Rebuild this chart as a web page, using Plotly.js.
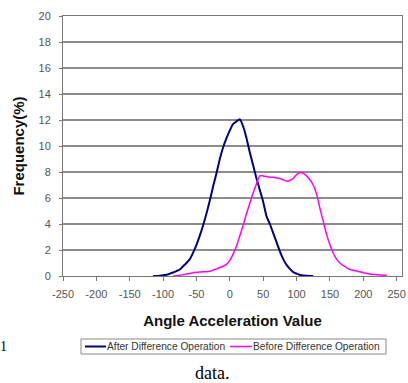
<!DOCTYPE html>
<html><head><meta charset="utf-8">
<script src="https://cdn.plot.ly/plotly-3.0.1.min.js"></script>
<style>html,body{margin:0;padding:0;background:#fff}#chart{width:408px;height:383px}</style>
</head><body><div id="chart"></div>
<script>
const afterX = [-115,-110,-105,-100,-95,-90,-85,-80,-75,-70,-65,-60,-55,-50,-45,-40,-35,-30,-25,-20,-15,-10,-5,0,5,10,15,20,25,30,35,40,45,50,55,60,65,70,75,80,85,90,95,100,105,110,115,120,125];
const afterY = [0,0,0.02,0.05,0.1,0.17,0.27,0.38,0.5,0.75,1.0,1.3,1.8,2.4,3.1,3.9,4.8,5.8,6.9,7.9,9.0,9.9,10.6,11.2,11.7,11.9,12.05,11.5,10.6,9.5,8.5,7.5,6.6,5.7,4.6,4.0,3.3,2.6,1.9,1.3,0.85,0.55,0.3,0.18,0.08,0.03,0.01,0,0];
const beforeX = [-85,-80,-75,-70,-65,-60,-55,-50,-45,-40,-35,-30,-25,-20,-15,-10,-5,0,5,10,15,20,25,30,35,40,45,50,55,60,65,70,75,80,85,90,95,100,105,110,115,120,125,130,135,140,145,150,155,160,165,170,175,180,185,190,195,200,205,210,215,220,225,230,235];
const beforeY = [0,0.02,0.05,0.1,0.15,0.2,0.25,0.28,0.3,0.32,0.33,0.36,0.45,0.55,0.65,0.75,0.9,1.2,1.7,2.3,3.1,3.9,4.8,5.6,6.4,7.1,7.7,7.7,7.65,7.6,7.6,7.55,7.5,7.4,7.3,7.35,7.5,7.8,7.95,7.9,7.7,7.4,7.0,6.3,5.2,4.2,3.2,2.4,1.75,1.3,1.0,0.8,0.65,0.5,0.45,0.38,0.32,0.25,0.2,0.15,0.12,0.1,0.08,0.06,0.05];
const xTicks = [-250,-200,-150,-100,-50,0,50,100,150,200,250];
const yTicks = [0,2,4,6,8,10,12,14,16,18,20];
const seriesNames = ['After Difference Operation','Before Difference Operation'];
const seriesColors = ['#000080', '#ff00ff'];

const traces = [
  {x: afterX, y: afterY, name: seriesNames[0], type: 'scatter', mode: 'lines',
   line: {color: seriesColors[0], width: 2, shape: 'spline', smoothing: 0.6}},
  {x: beforeX, y: beforeY, name: seriesNames[1], type: 'scatter', mode: 'lines',
   line: {color: seriesColors[1], width: 1.5, shape: 'spline', smoothing: 0.6}}
];

// pixel helpers for the legend box (paper coordinates)
const L = 63, R = 402, T = 16, B = 276;
const px = v => (v - L) / (R - L);
const py = v => (B - v) / (B - T);

const tickFont = {family: 'Liberation Sans, Arial, sans-serif', size: 11, color: '#555'};
const legFont = {family: 'Liberation Sans, Arial, sans-serif', size: 10.2, color: '#333'};
const legY = py(346.5);

const layout = {
  width: 408, height: 383,
  margin: {l: 63, r: 6, t: 16, b: 107},
  paper_bgcolor: '#fff', plot_bgcolor: '#fff',
  showlegend: false,
  xaxis: {range: [-250, 258], tickvals: xTicks, ticktext: xTicks.map(String),
    showgrid: false, zeroline: false, showline: true, linecolor: '#777', linewidth: 1,
    mirror: true, ticks: 'outside', ticklen: 4, tickcolor: '#777', tickfont: tickFont,
    ticklabelstandoff: 4,
    title: {text: 'Angle Acceleration Value', standoff: 16,
      font: {family: 'Liberation Sans, Arial, sans-serif', size: 15, color: '#111', weight: 'bold'}}},
  xaxis2: {overlaying: 'x', matches: 'x', side: 'bottom', anchor: 'y', tickvals: xTicks,
    showticklabels: false, ticks: 'inside', ticklen: 4, tickcolor: '#777', showgrid: false,
    zeroline: false, showline: false},
  yaxis: {range: [0, 20], tickvals: yTicks, ticktext: yTicks.map(String),
    showgrid: true, gridcolor: '#8c8c8c', gridwidth: 1.5, zeroline: false,
    showline: true, linecolor: '#777', linewidth: 1, mirror: true,
    ticks: 'outside', ticklen: 3, tickcolor: '#777', tickfont: tickFont, ticklabelstandoff: 6,
    title: {text: 'Frequency(%)', standoff: 10,
      font: {family: 'Liberation Sans, Arial, sans-serif', size: 15, color: '#111', weight: 'bold'}}},
  shapes: [
    {type: 'rect', xref: 'paper', yref: 'paper', x0: px(81), x1: px(386), y0: py(339), y1: py(354),
     line: {color: '#888', width: 1}, fillcolor: '#fff'},
    {type: 'line', xref: 'paper', yref: 'paper', x0: px(85), x1: px(106), y0: legY, y1: legY,
     line: {color: seriesColors[0], width: 2}},
    {type: 'line', xref: 'paper', yref: 'paper', x0: px(230), x1: px(252), y0: legY, y1: legY,
     line: {color: seriesColors[1], width: 1.5}}
  ],
  annotations: [
    {text: seriesNames[0], xref: 'paper', yref: 'paper', x: px(107), y: legY,
     xanchor: 'left', yanchor: 'middle', showarrow: false, font: legFont, xshift: -2},
    {text: seriesNames[1], xref: 'paper', yref: 'paper', x: px(253), y: legY,
     xanchor: 'left', yanchor: 'middle', showarrow: false, font: legFont, xshift: -2},
    {text: 'data.', xref: 'paper', yref: 'paper', x: px(212), y: py(373),
     xanchor: 'center', yanchor: 'middle', showarrow: false,
     font: {family: 'Liberation Serif, Times New Roman, serif', size: 18, color: '#000'}},
    {text: '1', xref: 'paper', yref: 'paper', x: px(0), y: py(346),
     xanchor: 'left', yanchor: 'middle', showarrow: false, xshift: -2,
     font: {family: 'Liberation Serif, Times New Roman, serif', size: 14, color: '#000'}}
  ]
};
Plotly.newPlot('chart', traces, layout, {displayModeBar: false, staticPlot: true});
</script></body></html>
